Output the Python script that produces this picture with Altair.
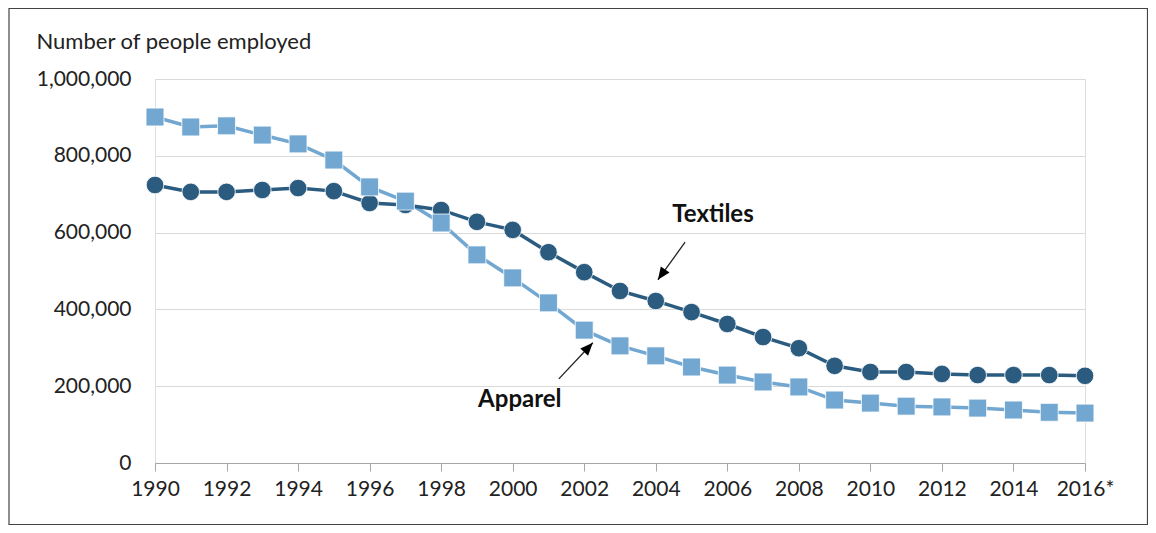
import altair as alt
import pandas as pd

years = list(range(1990, 2017))
apparel = [901000, 875000, 878000, 854000, 831000, 789000, 719000, 682000, 625000, 542000,
           482000, 417000, 346000, 305000, 279000, 250000, 229000, 211000, 198000, 164000,
           156000, 148000, 146000, 143000, 138000, 132000, 130000]
textiles = [724000, 706000, 706000, 711000, 716000, 708000, 677000, 672000, 659000, 628000,
            607000, 549000, 497000, 448000, 422000, 393000, 362000, 328000, 299000, 253000,
            237000, 237000, 232000, 229000, 229000, 229000, 227000]

labels = ["Textiles", "Apparel"]
label_year = [2005.6, 2000.2]
label_val = [646000, 163000]
arrow_tail_year = [2004.82, 2001.29]
arrow_tail_val = [575000, 219000]
arrow_tip_year = [2004.06, 2002.24]
arrow_tip_val = [477000, 313000]
arrow_angle = [215, 43]

APP_C = "#71A7D1"
TEX_C = "#2B5C80"
FONT = "Lato"

df = pd.DataFrame({"year": years * 2,
                   "value": apparel + textiles,
                   "series": ["Apparel"] * len(years) + ["Textiles"] * len(years)})
lab_df = pd.DataFrame({"label": labels, "year": label_year, "value": label_val})
arr_df = pd.DataFrame({"x": arrow_tail_year, "y": arrow_tail_val,
                       "x2": arrow_tip_year, "y2": arrow_tip_val, "angle": arrow_angle})

xs = alt.Scale(domain=[1990, 2016], nice=False, zero=False)
ys = alt.Scale(domain=[0, 1000000], nice=False)

x_axis = alt.Axis(values=list(range(1990, 2017, 2)), format="d", title=None, grid=False,
                  labelExpr="datum.value == 2016 ? '2016*' : datum.label",
                  domainColor="#A6A6A6", tickColor="#A6A6A6", tickSize=8,
                  labelPadding=7, labelFontSize=21, labelFont=FONT, labelColor="#222222",
                  labelFlush=False)
y_axis = alt.Axis(values=[0, 200000, 400000, 600000, 800000, 1000000], format=",d",
                  title="Number of people employed", titleAngle=0, titleAlign="left",
                  titleBaseline="middle", titleX=-119, titleY=-38, titleFont=FONT,
                  titleFontSize=22, titleFontWeight="normal", titleColor="#222222",
                  domain=False, ticks=False, labelPadding=24, labelFontSize=21,
                  labelFont=FONT, labelColor="#222222",
                  gridColor="#D9D9D9", gridWidth=1.2)

base = alt.Chart(df)

frame = alt.Chart(pd.DataFrame({"a": [0]})).mark_rect(
    fill=None, stroke="#444444", strokeWidth=1.2, clip=False
).encode(x=alt.value(-146), x2=alt.value(992.5), y=alt.value(-70.5), y2=alt.value(445.5))

axes_layer = base.mark_line(opacity=0).encode(
    x=alt.X("year:Q", scale=xs, axis=x_axis),
    y=alt.Y("value:Q", scale=ys, axis=y_axis),
    detail="series:N")

app = alt.Chart(df[df.series == "Apparel"])
tex = alt.Chart(df[df.series == "Textiles"])
enc = dict(x=alt.X("year:Q", scale=xs), y=alt.Y("value:Q", scale=ys))

app_line = app.mark_line(color=APP_C, strokeWidth=3.5).encode(**enc)
app_pts = app.mark_point(shape="square", filled=True, color=APP_C, size=320, opacity=1,
                         stroke="white", strokeWidth=0.8).encode(**enc)
tex_line = tex.mark_line(color=TEX_C, strokeWidth=3.5).encode(**enc)
tex_pts = tex.mark_point(shape="circle", filled=True, color=TEX_C, size=310, opacity=1,
                         stroke="white", strokeWidth=0.8).encode(**enc)

lab = alt.Chart(lab_df).mark_text(font=FONT, fontSize=24, fontWeight="bold",
                                  color="#111111", align="center", baseline="middle").encode(
    x=alt.X("year:Q", scale=xs), y=alt.Y("value:Q", scale=ys), text="label:N")

arr_line = alt.Chart(arr_df).mark_rule(color="#222222", strokeWidth=1.3).encode(
    x=alt.X("x:Q", scale=xs), y=alt.Y("y:Q", scale=ys),
    x2="x2:Q", y2="y2:Q")
arr_head = alt.Chart(arr_df).mark_point(shape="M0,0L-0.42,1L0.42,1Z", filled=True,
                                        color="#000000", size=640, opacity=1).encode(
    x=alt.X("x2:Q", scale=xs), y=alt.Y("y2:Q", scale=ys), angle=alt.Angle("angle:Q", scale=None))

chart = alt.layer(frame, axes_layer, app_line, tex_line, tex_pts, app_pts,
                  arr_line, arr_head, lab).properties(
    width=930, height=384,
    autosize=alt.AutoSizeParams(type="none"),
    padding={"left": 147, "top": 71, "right": 63, "bottom": 62}
).configure_view(stroke=None).configure(background="white")

chart.save("out.html", embed_options={"renderer": "svg", "actions": False})
